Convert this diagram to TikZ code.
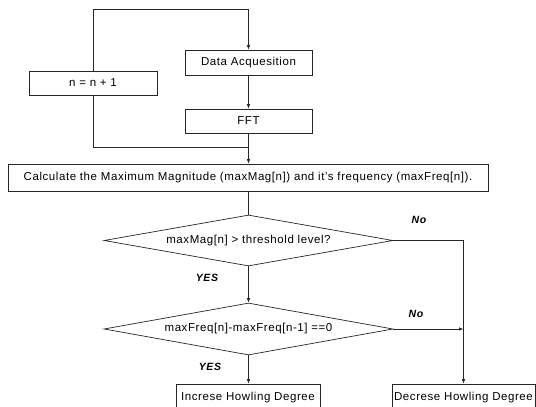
\documentclass[tikz,border=0pt]{standalone}
\usepackage{fontspec}
\setmainfont{Liberation Sans}[LetterSpace=5]
\usetikzlibrary{shapes.geometric,arrows.meta}
\begin{document}
\begin{tikzpicture}[x=1pt,y=-1pt,
  every node/.style={font=\fontsize{11.5}{13}\selectfont},
  procbox/.style={draw=black!85,line width=0.7pt,rectangle,inner sep=0pt,anchor=center},
  decbox/.style={draw=black!85,line width=0.7pt,diamond,inner sep=0pt,aspect=5.6,minimum width=289pt,minimum height=51pt},
  conn/.style={draw=black!85,line width=0.7pt},
  arr/.style={conn,-{Latex[length=4.5pt,width=3.5pt]}},
  lab/.style={font=\fontsize{10.5}{12}\selectfont\bfseries\itshape}]
\useasboundingbox (0,0) rectangle (536,407);
\node[procbox,minimum width=127pt,minimum height=25pt] (daq) at (248.5,62.5) {Data Acquesition};
\node[procbox,minimum width=127pt,minimum height=24pt] (fft) at (248.5,121) {FFT};
\node[procbox,minimum width=128pt,minimum height=24pt] (nbox) at (93,83) {n = n + 1};
\node[procbox,minimum width=480pt,minimum height=27pt] (calc) at (248,177.5) {Calculate the Maximum Magnitude (maxMag[n]) and it's frequency (maxFreq[n]).};
\node[decbox] (d1) at (248.5,240.5) {maxMag[n] \textgreater{} threshold level?};
\node[decbox,minimum height=52pt] (d2) at (248.5,329) {maxFreq[n]-maxFreq[n-1] ==0};
\node[procbox,minimum width=144pt,minimum height=28pt] (inc) at (248,398) {Increse Howling Degree};
\node[procbox,minimum width=143pt,minimum height=28pt] (dec) at (463.5,398) {Decrese Howling Degree};
\coordinate (lt) at (93,9);
\coordinate (rt) at (248.5,9);
\coordinate (j) at (248.5,147);
\coordinate (jl) at (93,147);
\coordinate (rc) at (463.5,240.5);
\coordinate (rm) at (463.5,329);
\draw[arr] (nbox.north) -- (lt) -- (rt) -- (daq.north);
\draw[arr] (daq.south) -- (fft.south |- fft.north);
\draw[arr] (fft.south) -- (calc.north -| fft.south);
\draw[conn] (nbox.south) -- (jl) -- (j);
\draw[conn] (calc.south -| d1.north) -- (d1.north);
\draw[arr] (d1.south) -- (d2.north);
\draw[arr] (d1.east) -- (rc) -- (dec.north);
\draw[arr] (d2.east) -- (rm);
\draw[arr] (d2.south) -- (inc.north -| d2.south);
\node[lab] (no1) at (419,220) {No};
\node[lab] (yes1) at (207,278) {YES};
\node[lab] (no2) at (416,314) {No};
\node[lab] (yes2) at (210,367) {YES};
\end{tikzpicture}
\end{document}
